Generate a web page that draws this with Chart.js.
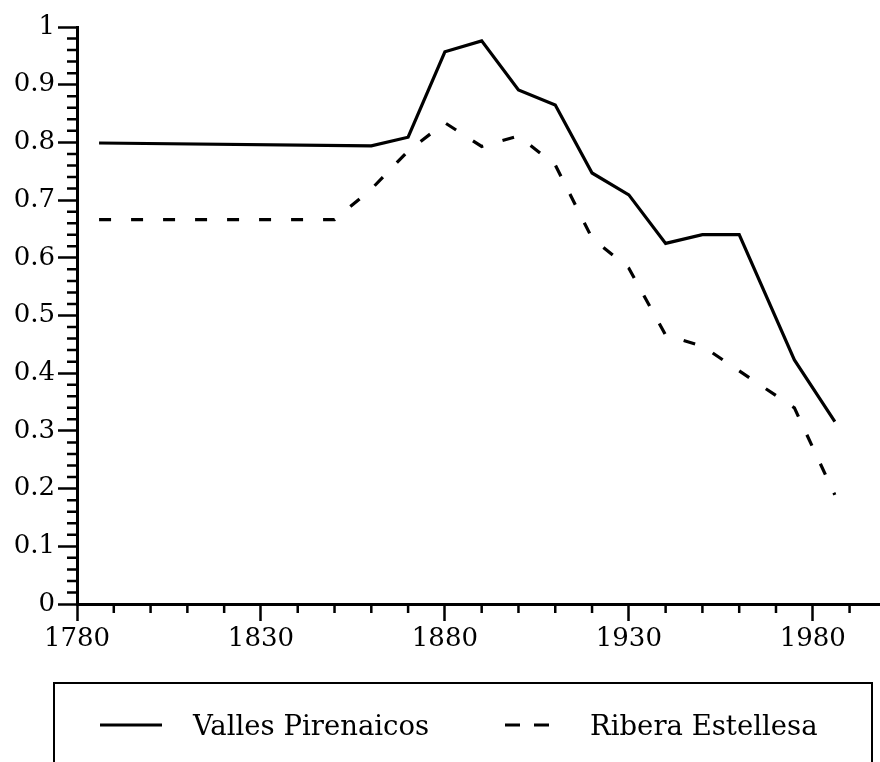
<!DOCTYPE html>
<html>
<head>
<meta charset="utf-8">
<script src="https://cdn.jsdelivr.net/npm/chart.js@4.4.1/dist/chart.umd.min.js"></script>
<style>
  html, body { margin: 0; padding: 0; background: #fff; }
  #wrap { position: relative; width: 880px; height: 762px; overflow: hidden; }
  #legend {
    position: absolute; left: 53px; top: 682px; width: 816px; height: 120px;
    border: 2.5px solid #000; border-bottom: none;
    font-family: "DejaVu Serif", serif; font-size: 27.5px; color: #000;
  }
  .item { position: absolute; top: 25px; display: flex; align-items: center; }
</style>
</head>
<body>
<div id="wrap">
  <canvas id="chart" width="880" height="762"></canvas>
  <div id="legend"></div>
</div>
<script>
'use strict';

const years = [1786, 1850, 1860, 1870, 1880, 1890, 1900, 1910, 1920, 1930, 1940, 1950, 1960, 1975, 1986];
const vallesPirenaicos = [0.799, null, 0.794, 0.809, 0.957, 0.976, 0.891, 0.865, 0.747, 0.709, 0.625, 0.640, 0.640, 0.423, 0.316];
const riberaEstellesa = [0.666, 0.666, 0.719, 0.785, 0.834, 0.793, 0.811, 0.761, 0.634, 0.582, 0.466, 0.447, 0.404, 0.340, 0.189];
const seriesNames = ['Valles Pirenaicos', 'Ribera Estellesa'];
const xTickLabels = [1780, 1830, 1880, 1930, 1980];
const yTickLabels = ['0', '0.1', '0.2', '0.3', '0.4', '0.5', '0.6', '0.7', '0.8', '0.9', '1'];

const FONT = { family: 'DejaVu Serif', size: 26 };
const DASH = [12, 20];

// small ticks between the labelled ones
const minorTicks = {
    id: 'minorTicks',
    afterDraw(chart) {
        const ctx = chart.ctx;
        const x = chart.scales.x;
        const y = chart.scales.y;
        ctx.save();
        ctx.strokeStyle = '#000';
        ctx.lineWidth = 2.5;
        ctx.beginPath();
        for (let v = 1780; v <= x.max; v += 10) {
            if ((v - 1780) % 50 === 0) continue;
            const px = x.getPixelForValue(v);
            ctx.moveTo(px, y.bottom);
            ctx.lineTo(px, y.bottom + 9);
        }
        for (let i = 0; i <= 50; i++) {
            if (i % 5 === 0) continue;
            const py = y.getPixelForValue(i / 50);
            ctx.moveTo(x.left - 10, py);
            ctx.lineTo(x.left, py);
        }
        ctx.stroke();
        ctx.restore();
    }
};

const chart = new Chart(document.getElementById('chart'), {
    type: 'line',
    data: {
        datasets: [{
            label: seriesNames[0],
            data: years.map((yr, i) => ({ x: yr, y: vallesPirenaicos[i] })),
            borderColor: '#000',
            borderWidth: 3.2,
            pointRadius: 0,
            spanGaps: true,
            tension: 0
        }, {
            label: seriesNames[1],
            data: years.map((yr, i) => ({ x: yr, y: riberaEstellesa[i] })),
            borderColor: '#000',
            borderWidth: 3.2,
            borderDash: DASH,
            pointRadius: 0,
            tension: 0
        }]
    },
    options: {
        responsive: false,
        animation: false,
        layout: { padding: { top: 27, right: 1, left: 0, bottom: 0 } },
        plugins: {
            legend: { display: false },
            tooltip: { enabled: false }
        },
        scales: {
            x: {
                type: 'linear',
                min: 1780,
                max: 1998,
                afterFit: s => { s.height = 158; },
                afterBuildTicks: s => {
                    s.ticks = xTickLabels.map(v => ({ value: v }));
                },
                ticks: {
                    color: '#000',
                    font: FONT,
                    padding: 3,
                    maxRotation: 0,
                    autoSkip: false,
                    callback: v => String(v)
                },
                grid: {
                    drawOnChartArea: false,
                    tickLength: 17,
                    tickWidth: 2.5,
                    tickColor: '#000'
                },
                border: { color: '#000', width: 3 }
            },
            y: {
                min: 0,
                max: 1,
                afterFit: s => { s.width = 77; },
                afterBuildTicks: s => {
                    s.ticks = yTickLabels.map(t => ({ value: parseFloat(t) }));
                },
                ticks: {
                    color: '#000',
                    font: FONT,
                    padding: 3,
                    autoSkip: false,
                    callback: (v, i) => yTickLabels[i]
                },
                grid: {
                    drawOnChartArea: false,
                    tickLength: 19,
                    tickWidth: 2.5,
                    tickColor: '#000'
                },
                border: { color: '#000', width: 3 }
            }
        }
    },
    plugins: [minorTicks]
});

// legend box under the axis
const legendPos = [45, 450];
const legendLine = [62, 44];
const legendGap = [31, 41];
const legendEl = document.getElementById('legend');
chart.data.datasets.forEach((ds, i) => {
    const item = document.createElement('div');
    item.className = 'item';
    item.style.left = legendPos[i] + 'px';
    const w = legendLine[i];
    const dash = ds.borderDash ? 'stroke-dasharray="15 14"' : '';
    item.innerHTML = `<svg width="${w}" height="10" style="margin-right:${legendGap[i]}px"><line x1="0" y1="5" x2="${w}" y2="5" stroke="#000" stroke-width="3" ${dash}/></svg><span>${ds.label}</span>`;
    legendEl.appendChild(item);
});
</script>
</body>
</html>
